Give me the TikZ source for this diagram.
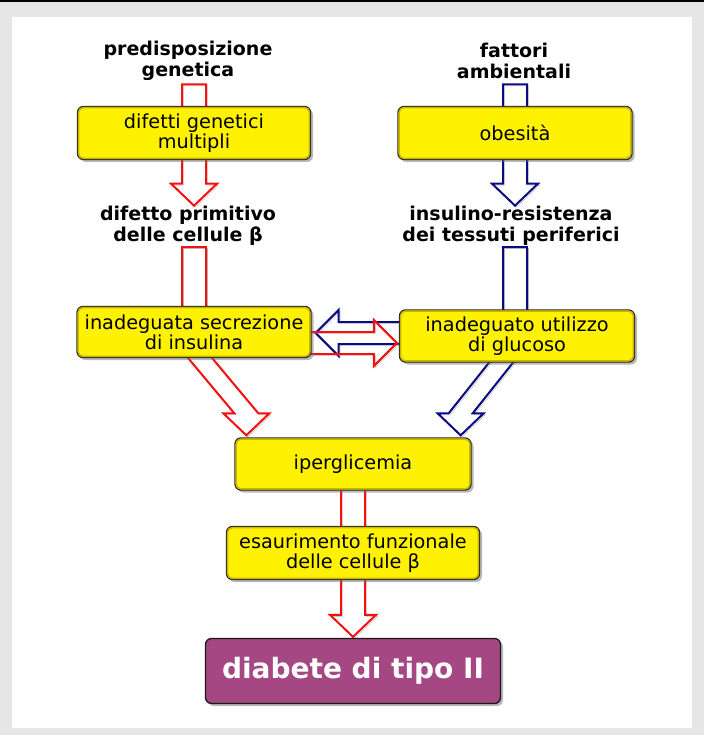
\documentclass[tikz,border=0pt]{standalone}
\usepackage{fontspec}
\setmainfont{DejaVu Sans}
\usetikzlibrary{calc,shadows}

\definecolor{boxyellow}{RGB}{255,242,0}
\definecolor{boxrim}{RGB}{200,182,0}
\definecolor{diabpurple}{RGB}{165,71,130}
\definecolor{flowred}{RGB}{245,15,15}
\definecolor{flowblue}{RGB}{10,10,130}
\definecolor{pagegray}{RGB}{230,230,230}

\pgfdeclarelayer{page}
\pgfdeclarelayer{flows}
\pgfsetlayers{page,flows,main}

\newcommand{\shaftw}{12}
\newcommand{\headw}{23}
\newcommand{\headl}{22}
% fat arrow going down: colour, start of shaft, tip
\newcommand{\flowdown}[3]{%
  \draw[flow,draw=#1] ($(#2)+(-\shaftw,0)$) -- ($(#3)+(-\shaftw,-\headl)$) -- ($(#3)+(-\headw,-\headl)$) -- (#3)
    -- ($(#3)+(\headw,-\headl)$) -- ($(#3)+(\shaftw,-\headl)$) -- ($(#2)+(\shaftw,0)$) -- cycle;}
% fat arrow going sideways: colour, tail, tip, head length (signed)
\newcommand{\flowside}[4]{%
  \draw[flow,draw=#1] ($(#2)+(0,-11)$) -- ($(#3)+(#4,-11)$) -- ($(#3)+(#4,-\headw)$) -- (#3)
    -- ($(#3)+(#4,\headw)$) -- ($(#3)+(#4,11)$) -- ($(#2)+(0,11)$) -- cycle;}

\begin{document}
\begin{tikzpicture}[x=1pt,y=-1pt]
\tikzstyle{cause}=[draw=black!85, line width=1.3pt, fill=boxyellow, rounded corners=6pt, align=center,
  font=\fontsize{19.3}{20}\selectfont, inner sep=2pt,
  drop shadow={shadow xshift=2.5pt, shadow yshift=-2.5pt, fill=black!55}]
\tikzstyle{result}=[draw=black!90, line width=1.3pt, fill=diabpurple, rounded corners=6pt, text=white,
  font=\fontsize{28}{30}\bfseries\selectfont, drop shadow={shadow xshift=2.5pt, shadow yshift=-2.5pt, fill=black!55}]
\tikzstyle{stage}=[align=center, font=\fontsize{19}{20.5}\bfseries\selectfont, inner sep=0pt]
\tikzstyle{flow}=[line width=2pt, preaction={draw=black!30, transform canvas={xshift=1.5pt, yshift=-1.5pt}}]
% end of definitions

% page
\begin{pgfonlayer}{page}
\fill[pagegray] (0,0) rectangle (704,735);
\fill[black] (0,0) rectangle (704,2.5);
\fill[white] (12,17) rectangle (692,728);
\end{pgfonlayer}

% stages (bold)
\node[stage] (pre) at (188,61) {predisposizione\\genetica};
\node[stage] (fat) at (514,61) {fattori\\ambientali};
\node[stage] (dif) at (188,226) {difetto primitivo\\delle cellule β};
\node[stage] (res) at (511,226) {insulino-resistenza\\dei tessuti periferici};

% boxes
\node[cause, minimum width=233pt, minimum height=53pt] (gen) at (194,133) {difetti genetici\\multipli};
\node[cause, minimum width=234pt, minimum height=53pt] (obe) at (515,133) {obesità};
\node[cause, minimum width=234pt, minimum height=51pt] (sec) at (194,332) {inadeguata secrezione\\di insulina};
\node[cause, minimum width=235pt, minimum height=52pt] (uti) at (517,336) {inadeguato utilizzo\\di glucoso};
\node[cause, minimum width=236pt, minimum height=52pt] (iper) at (353,464) {iperglicemia};
\node[cause, minimum width=253pt, minimum height=53pt] (esa) at (353,553) {esaurimento funzionale\\delle cellule β};
\node[result, minimum width=295pt, minimum height=65pt] (dia) at (353,671) {diabete di tipo II};

% darker rim just inside each yellow box
\foreach \b in {gen,obe,sec,uti,iper,esa}
  \draw[boxrim, line width=1.5pt, rounded corners=5pt] ($(\b.south west)+(1.7,-1.7)$) rectangle ($(\b.north east)+(-1.7,1.7)$);

% arrows, behind the boxes
\begin{pgfonlayer}{flows}
\coordinate (gentop) at ($(gen.north)+(0,-21.5)$);
\coordinate (gentip) at ($(gen.south)+(0,45.5)$);
\coordinate (sectop) at ($(gen.south)+(0,86.5)$);
\coordinate (obetop) at ($(obe.north)+(0,-21.5)$);
\coordinate (obetip) at ($(obe.south)+(0,45.5)$);
\coordinate (utitop) at ($(obe.south)+(0,86.5)$);
\flowdown{flowred}{gentop}{gentip}
\flowdown{flowblue}{obetop}{obetip}
\draw[flow,draw=flowred] ($(sectop)+(-\shaftw,0)$) rectangle (sec.center -| {$(sectop)+(\shaftw,0)$});
\draw[flow,draw=flowblue] ($(utitop)+(-\shaftw,0)$) rectangle (uti.center -| {$(utitop)+(\shaftw,0)$});
\flowdown{flowred}{$(sec.center)+(-9,8)$}{$(iper.north west)+(12,-2)$}
\flowdown{flowblue}{$(uti.center)+(-2,9)$}{$(iper.north east)+(-11,-2)$}
\flowside{flowblue}{$(uti.west)+(8,-3)$}{$(sec.east)+(4,1)$}{23}
\flowside{flowred}{$(sec.east)+(-8,11)$}{$(uti.west)+(-2,7)$}{-23}
\flowdown{flowred}{iper.center}{$(dia.north)+(0,-1)$}
\end{pgfonlayer}
\end{tikzpicture}
\end{document}
